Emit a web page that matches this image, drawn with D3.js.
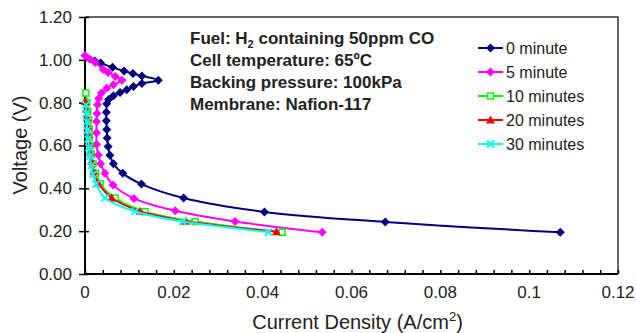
<!DOCTYPE html>
<html>
<head>
<meta charset="utf-8">
<script src="https://cdn.jsdelivr.net/npm/d3@7"></script>
<style>
  body { margin: 0; background: #fff; }
  text { font-family: "Liberation Sans", Arial, sans-serif; fill: #222; }
</style>
</head>
<body>
<div id="chart"></div>
<script>
// current density (A/cm2), voltage (V)
var min0 = [[0.0022, 0.995], [0.0035, 0.985], [0.0062, 0.965], [0.0088, 0.948], [0.0108, 0.936],
  [0.0128, 0.925], [0.0165, 0.905], [0.0128, 0.890], [0.0109, 0.875], [0.0094, 0.860],
  [0.0079, 0.847], [0.0064, 0.832], [0.0053, 0.815], [0.0049, 0.795], [0.0048, 0.755],
  [0.0048, 0.715], [0.0049, 0.675], [0.0050, 0.635], [0.0052, 0.595], [0.0056, 0.555],
  [0.0064, 0.515], [0.0085, 0.470], [0.0127, 0.420], [0.0222, 0.355], [0.0404, 0.290],
  [0.0676, 0.243], [0.1070, 0.195]];
var min5 = [[0.0000, 1.020], [0.0011, 1.003], [0.0023, 0.988], [0.0041, 0.955], [0.0052, 0.941],
  [0.0068, 0.922], [0.0083, 0.905], [0.0064, 0.884], [0.0049, 0.867], [0.0037, 0.845],
  [0.0031, 0.820], [0.0028, 0.790], [0.0027, 0.750], [0.0026, 0.712], [0.0026, 0.660],
  [0.0026, 0.605], [0.0030, 0.556], [0.0035, 0.515], [0.0045, 0.470], [0.0063, 0.416],
  [0.0110, 0.353], [0.0203, 0.295], [0.0338, 0.245], [0.0534, 0.195]];
var min10 = [[0.0002, 0.845], [0.0004, 0.800], [0.0006, 0.760], [0.0008, 0.720], [0.0009, 0.680],
  [0.0010, 0.640], [0.0012, 0.600], [0.0014, 0.560], [0.0018, 0.515], [0.0024, 0.470],
  [0.0034, 0.421], [0.0068, 0.354], [0.0135, 0.291], [0.0248, 0.245], [0.0444, 0.195]];
var min20 = [[0.0001, 0.805], [0.0003, 0.770], [0.0005, 0.730], [0.0007, 0.690], [0.0008, 0.650],
  [0.0010, 0.610], [0.0012, 0.570], [0.0015, 0.525], [0.0020, 0.480], [0.0030, 0.425],
  [0.0060, 0.356], [0.0124, 0.293], [0.0227, 0.246], [0.0431, 0.197]];
var min30 = [[0.0002, 0.790], [0.0003, 0.750], [0.0004, 0.710], [0.0005, 0.670], [0.0007, 0.630],
  [0.0009, 0.590], [0.0011, 0.550], [0.0014, 0.505], [0.0018, 0.465], [0.0025, 0.420],
  [0.0045, 0.355], [0.0113, 0.292], [0.0220, 0.245], [0.0413, 0.196]];

var seriesNames = ["0 minute", "5 minute", "10 minutes", "20 minutes", "30 minutes"];
var seriesColors = ["#000080", "#ff00ff", "#00ff00", "#ff0000", "#00ffff"];
var seriesMarkers = ["diamond", "diamond", "square", "triangle", "cross"];

var xTicks = [0, 0.02, 0.04, 0.06, 0.08, 0.1, 0.12];
var yTicks = [0, 0.2, 0.4, 0.6, 0.8, 1.0, 1.2];

var notes = ["Fuel: H|2| containing 50ppm CO", "Cell temperature: 65ºC",
  "Backing pressure: 100kPa", "Membrane: Nafion-117"];

var svgWidth = 636;
var svgHeight = 333;
var margin = { top: 17, right: 18, bottom: 59, left: 85 };
var width = svgWidth - margin.left - margin.right;
var height = svgHeight - margin.top - margin.bottom;

var svg = d3.select("#chart")
  .append("svg")
  .attr("width", svgWidth)
  .attr("height", svgHeight);

var chartGroup = svg.append("g")
  .attr("transform", `translate(${margin.left}, ${margin.top})`);

var x = d3.scaleLinear().domain([0, 0.12]).range([0, width]);
var y = d3.scaleLinear().domain([0, 1.2]).range([height, 0]);

// frame on top and right
chartGroup.append("path")
  .attr("d", `M0,0H${width}V${height}`)
  .attr("fill", "none")
  .attr("stroke", "#333")
  .attr("stroke-width", 1.5);

// x axis: minor ticks pointing inside, labels every 0.02
var xAxis = chartGroup.append("g")
  .attr("transform", `translate(0, ${height})`)
  .call(d3.axisTop(x).tickValues(d3.range(0, 0.1201, 0.004)).tickSize(4).tickFormat(""));
xAxis.select(".domain").remove();
xAxis.selectAll("line").attr("stroke", "#000").attr("stroke-width", 1.5);

chartGroup.append("g")
  .selectAll("text")
  .data(xTicks)
  .enter()
  .append("text")
  .attr("x", d => x(d))
  .attr("y", height + 24)
  .attr("text-anchor", "middle")
  .style("font-size", "17px")
  .text(d => d3.format("")(d));

var yAxis = chartGroup.append("g")
  .call(d3.axisLeft(y).tickValues(yTicks).tickSizeInner(6).tickSizeOuter(0).tickPadding(7)
    .tickFormat(d3.format(".2f")));
yAxis.select(".domain").remove();
yAxis.selectAll("line").attr("stroke", "#000").attr("stroke-width", 1.5).attr("x2", 4).attr("x1", -6);
yAxis.selectAll("text").style("font-size", "17px").attr("fill", "#222");

chartGroup.append("line")
  .attr("x1", 0).attr("x2", 0).attr("y1", 0).attr("y2", height)
  .attr("stroke", "#000").attr("stroke-width", 2);
chartGroup.append("line")
  .attr("x1", 0).attr("x2", width).attr("y1", height).attr("y2", height)
  .attr("stroke", "#000").attr("stroke-width", 2);

// axis titles
var xTitle = svg.append("text")
  .attr("x", margin.left + width / 2 + 6)
  .attr("y", 329)
  .attr("text-anchor", "middle")
  .style("font-size", "20px");
xTitle.append("tspan").text("Current Density (A/cm");
xTitle.append("tspan").attr("dy", -8).style("font-size", "13px").text("2");
xTitle.append("tspan").attr("dy", 8).text(")");

svg.append("text")
  .attr("transform", "translate(27, 145) rotate(-90)")
  .attr("text-anchor", "middle")
  .style("font-size", "20px")
  .text("Voltage (V)");

// markers
function drawMarker(g, type, color) {
  if (type == "diamond") {
    g.append("path").attr("d", "M0,-4.5L4.5,0L0,4.5L-4.5,0Z").attr("fill", color);
  } else if (type == "square") {
    g.append("rect").attr("x", -3).attr("y", -3).attr("width", 6).attr("height", 6)
      .attr("fill", "#fff").attr("stroke", color).attr("stroke-width", 1.5);
  } else if (type == "triangle") {
    g.append("path").attr("d", "M0,-4.5L4.5,3.5L-4.5,3.5Z").attr("fill", color);
  } else {
    g.append("path").attr("d", "M-3.5,-3.5L3.5,3.5M-3.5,3.5L3.5,-3.5")
      .attr("stroke", color).attr("stroke-width", 1.8);
  }
}

var line = d3.line()
  .x(d => x(d[0]))
  .y(d => y(d[1]))
  .curve(d3.curveCatmullRom.alpha(0.5));

var allSeries = [min0, min5, min10, min20, min30];

allSeries.forEach(function(data, i) {
  var g = chartGroup.append("g");
  g.append("path")
    .datum(data)
    .attr("d", line)
    .attr("fill", "none")
    .attr("stroke", seriesColors[i])
    .attr("stroke-width", 2);
  g.selectAll(".pt")
    .data(data)
    .enter()
    .append("g")
    .attr("transform", d => `translate(${x(d[0])}, ${y(d[1])})`)
    .each(function() { drawMarker(d3.select(this), seriesMarkers[i], seriesColors[i]); });
});

// legend
var legend = svg.append("g");
seriesNames.forEach(function(name, i) {
  var row = legend.append("g").attr("transform", `translate(478, ${48 + i * 24})`);
  row.append("line").attr("x1", 0).attr("x2", 25).attr("y1", 0).attr("y2", 0)
    .attr("stroke", seriesColors[i]).attr("stroke-width", 2);
  drawMarker(row.append("g").attr("transform", "translate(12.5, 0)"), seriesMarkers[i], seriesColors[i]);
  row.append("text").attr("x", 28).attr("y", 6).style("font-size", "16px").text(name);
});

// conditions note
notes.forEach(function(n, i) {
  var parts = n.split("|");
  var t = svg.append("text")
    .attr("x", 190)
    .attr("y", 44 + i * 22)
    .style("font-size", "17px")
    .style("font-weight", "bold");
  t.append("tspan").text(parts[0]);
  if (parts.length > 1) {
    t.append("tspan").attr("dy", 4).style("font-size", "11px").text(parts[1]);
    t.append("tspan").attr("dy", -4).text(parts[2]);
  }
});
</script>
</body>
</html>
